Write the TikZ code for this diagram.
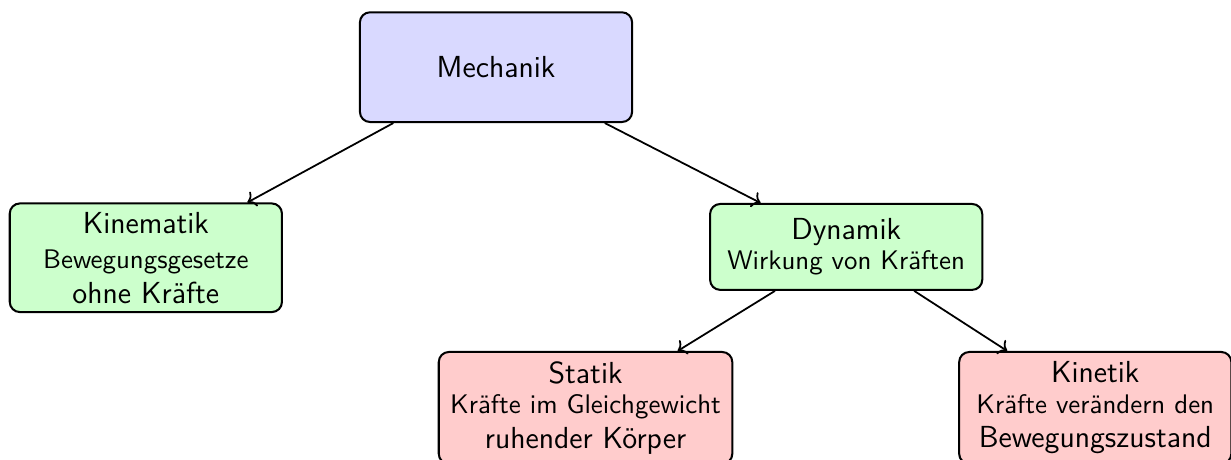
\documentclass[tikz,border=0pt]{standalone}
\usepackage{tikz}
\usetikzlibrary{arrows.meta,positioning}
\usepackage{xcolor}

\begin{document}
\begin{tikzpicture}[
  font=\sffamily\fontsize{10.6pt}{13.6pt}\selectfont,
  box/.style={draw,thick,rounded corners=4pt,align=center,inner xsep=4.5pt,minimum width=3.77cm},
  arr/.style={line width=0.7pt,->}
]
  \useasboundingbox (0,0) rectangle (17.05,6.37);

  % top level
  \node[box,fill=blue!15,minimum height=1.52cm,font=\sffamily\large] (mech) at (6.87,5.44) {Mechanik};

  % second level
  \node[box,fill=green!20,minimum height=1.5cm] (kin) at (2.02,2.80)
    {{\large Kinematik}\\[0.5pt]Bewegungsgesetze\\{\large ohne Kräfte}};
  \node[box,fill=green!20,minimum height=1.19cm] (dyn) at (11.72,2.95)
    {{\large Dynamik}\\[-1.8pt]Wirkung von Kräften};

  % third level
  \node[box,fill=red!20,minimum height=1.55cm] (stat) at (8.11,0.72)
    {{\large Statik}\\[-1.5pt]Kräfte im Gleichgewicht\\{\large ruhender Körper}};
  \node[box,fill=red!20,minimum height=1.55cm] (kinet) at (15.17,0.72)
    {{\large Kinetik}\\[-1.5pt]Kräfte verändern den\\{\large Bewegungszustand}};

  % arrows
  \draw[arr] (mech) -- (kin);
  \draw[arr] (mech) -- (dyn);
  \draw[arr] (dyn) -- (stat);
  \draw[arr] (dyn) -- (kinet);
\end{tikzpicture}
\end{document}
